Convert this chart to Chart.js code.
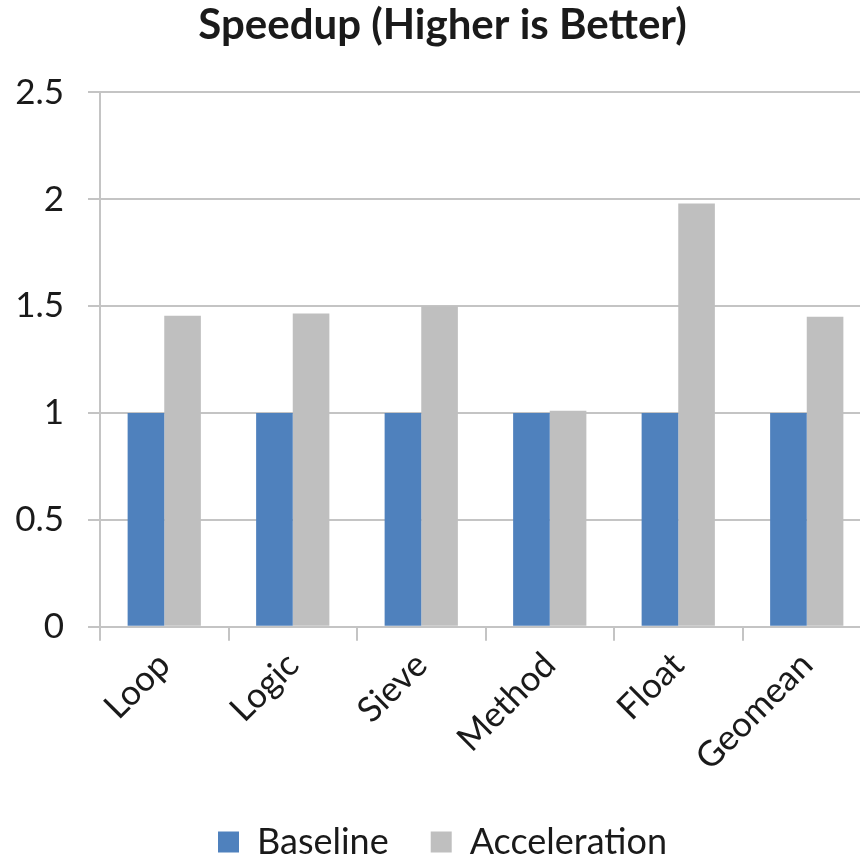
<!DOCTYPE html>
<html>
<head>
<meta charset="utf-8">
<script src="https://cdn.jsdelivr.net/npm/chart.js@4/dist/chart.umd.min.js"></script>
<style>
  html, body { margin: 0; padding: 0; background: #fff; overflow: hidden; }
  #wrap { width: 860px; height: 859px; overflow: hidden; }
</style>
</head>
<body>
<div id="wrap"><canvas id="speedup" width="890" height="859"></canvas></div>
<script>
// benchmark names and speedup per series
const benchmarks = ['Loop', 'Logic', 'Sieve', 'Method', 'Float', 'Geomean']
const baseline = [1, 1, 1, 1, 1, 1]
const acceleration = [1.455, 1.465, 1.50, 1.01, 1.98, 1.45]

const COLORS = {
  baseline: '#4F81BD',
  acceleration: '#BFBFBF',
  grid: '#C4C4C4',
  text: '#1a1a1a'
}

const FONT = 'Lato, "Open Sans", sans-serif'

// legend padding also sets the gap between items; trim the extra
// height it adds so the legend sits close to the bottom edge
const legendTrim = {
  id: 'legendTrim',
  beforeInit(chart) {
    const fit = chart.legend.fit
    chart.legend.fit = function () {
      fit.call(this)
      this.height -= 11
    }
  }
}

new Chart(
  document.getElementById('speedup'),
  {
    type: 'bar',
    data: {
      labels: benchmarks,
      datasets: [
        {
          label: 'Baseline',
          data: baseline,
          backgroundColor: COLORS.baseline
        },
        {
          label: 'Acceleration',
          data: acceleration,
          backgroundColor: COLORS.acceleration
        }
      ]
    },
    plugins: [legendTrim],
    options: {
      responsive: false,
      animation: false,
      devicePixelRatio: 1,
      datasets: {
        bar: {
          categoryPercentage: 0.57,
          barPercentage: 1.0
        }
      },
      layout: {
        autoPadding: false,
        padding: { left: 14, right: 19, top: 0, bottom: 0 }
      },
      plugins: {
        title: {
          display: true,
          text: 'Speedup (Higher is Better)',
          color: COLORS.text,
          font: { family: FONT, size: 42, weight: 'bold' },
          padding: { top: 0, bottom: 42 }
        },
        legend: {
          position: 'bottom',
          labels: {
            color: COLORS.text,
            font: { family: FONT, size: 36 },
            boxWidth: 21,
            boxHeight: 21,
            padding: 42
          }
        },
        tooltip: { enabled: false }
      },
      scales: {
        x: {
          border: { color: COLORS.grid, width: 2 },
          grid: {
            drawOnChartArea: false,
            tickLength: 14,
            color: COLORS.grid,
            lineWidth: 2
          },
          ticks: {
            color: COLORS.text,
            font: { family: FONT, size: 35 },
            minRotation: 45,
            maxRotation: 45,
            padding: 3.5
          }
        },
        y: {
          min: 0,
          max: 2.5,
          border: { color: COLORS.grid, width: 2 },
          grid: {
            color: COLORS.grid,
            lineWidth: 2,
            tickLength: 12
          },
          ticks: {
            stepSize: 0.5,
            color: COLORS.text,
            font: { family: FONT, size: 35 },
            padding: 24,
            callback: value => String(value)
          },
          // fixed axis width so the plot starts at the same spot
          afterFit(scale) {
            scale.width = 86
          }
        }
      }
    }
  }
)
</script>
</body>
</html>
